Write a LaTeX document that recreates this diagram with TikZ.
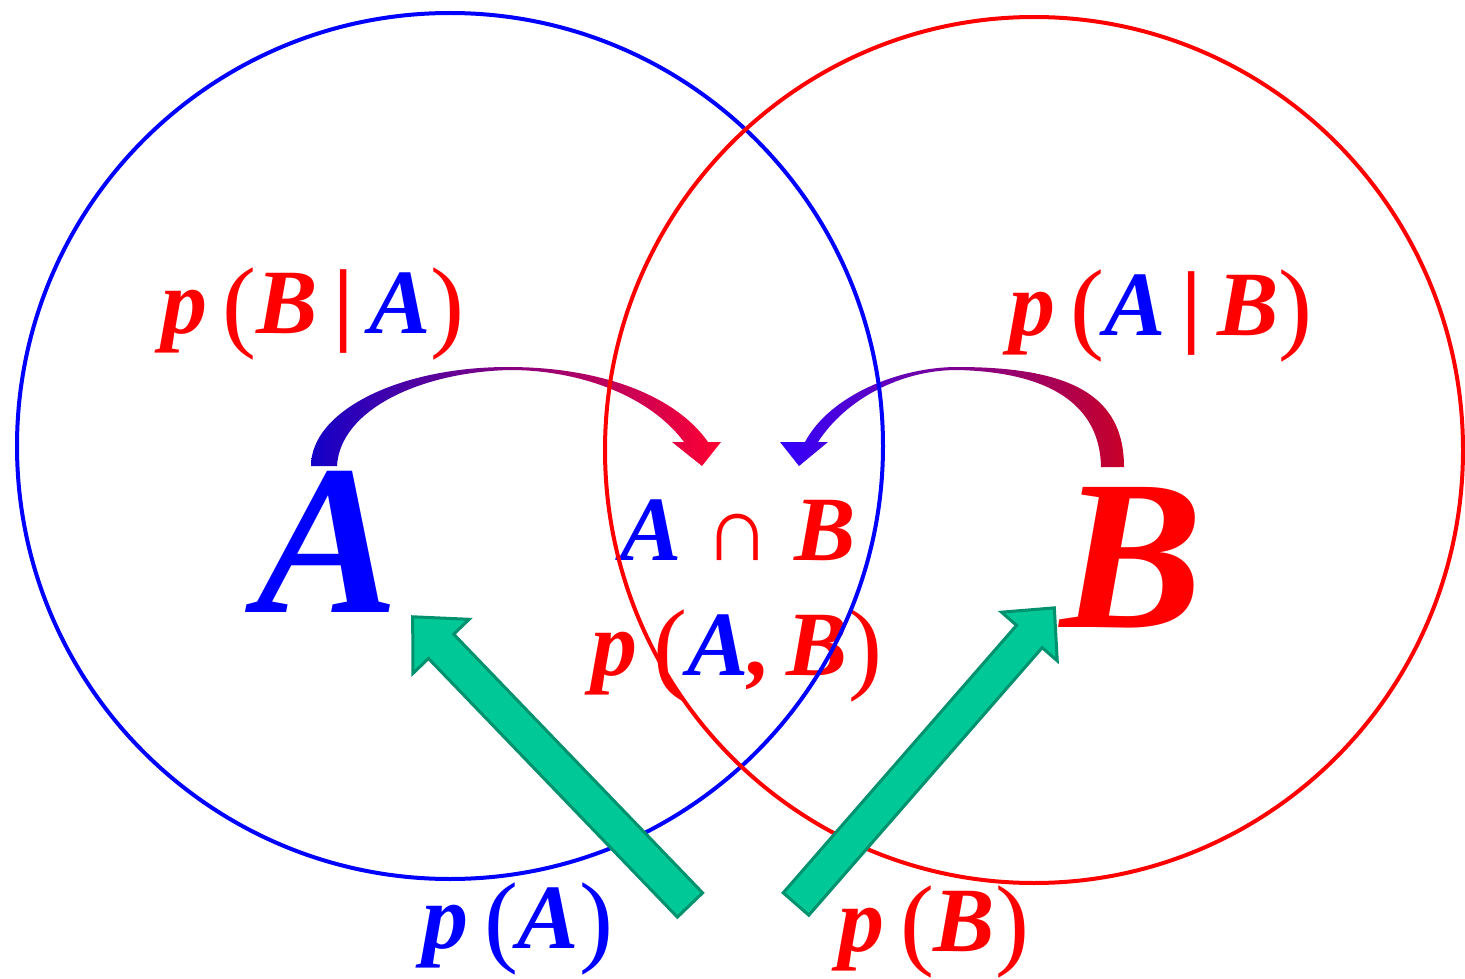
\documentclass[tikz,border=0pt]{standalone}
\usepackage{fontspec}
\setmainfont{Liberation Serif}
\usetikzlibrary{arrows.meta, positioning, calc}

\definecolor{vblue}{RGB}{0,0,255}
\definecolor{vred}{RGB}{255,0,0}
\definecolor{grfill}{RGB}{0,200,150}
\definecolor{grline}{RGB}{0,145,110}

\newcommand{\opn}{\raisebox{-5pt}{\fontsize{102}{102}\selectfont\upshape\mdseries(}}
\newcommand{\cls}{\raisebox{-5pt}{\fontsize{102}{102}\selectfont\upshape\mdseries)}}
\newcommand{\given}{{\upshape\,|\,}}
\newcommand{\evA}{\textcolor{vblue}{A}}
\newcommand{\evB}{\textcolor{vred}{B}}

\tikzset{
    setA/.style={draw=vblue, line width=4pt},
    setB/.style={draw=vred, line width=4pt},
    bigl/.style={font=\fontsize{214}{214}\selectfont\bfseries\itshape, inner sep=0pt, anchor=base},
    lbl/.style={font=\fontsize{92}{92}\selectfont\bfseries\itshape, inner sep=0pt, anchor=base},
    grarr/.style={fill=grfill, draw=grline, line width=3pt, line join=miter},
}

\begin{document}
\begin{tikzpicture}[x=1pt, y=-1pt]
    \useasboundingbox (0,0) rectangle (1465,979);

    % texts
    \node[bigl, text=vblue] (A) at (328,612) {A};
    \node[bigl, text=vred] (B) at (1132,627) {B};
    \node[lbl, text=vred] (pBA) at (313,333) {p\,\opn B\given\evA\cls};
    \node[lbl, text=vred] (pAB) at (1161,335) {p\,\opn\evA\given B\cls};
    \node[lbl, text=vred] (AcapB) at (738,560) {\evA\ {\upshape\mdseries ∩}\ B};
    \node[lbl, text=vred] (pjoint) at (737,675) {p\,\opn\evA,\,B\cls};
    \node[lbl, text=vblue] (pA) at (518,948) {p\,\opn A\cls};
    \node[lbl, text=vred] (pB) at (934,951) {p\,\opn B\cls};

    % curved arrows
    \shade[left color={rgb,255:red,20;green,0;blue,200}, right color={rgb,255:red,255;green,0;blue,50}]
        (311,466) .. controls (311,411) and (399,367) .. (508,367)
        .. controls (600,367) and (675,395) .. (708,442)
        -- (721,442) -- (702,466) -- (672,442) -- (684,442)
        .. controls (650,396) and (580,370) .. (510,370)
        .. controls (420,372) and (340,410) .. (337,466) -- cycle;
    \shade[left color={rgb,255:red,50;green,0;blue,255}, right color={rgb,255:red,200;green,0;blue,40}]
        (1124,467) .. controls (1124,395) and (1070,367) .. (957,367)
        .. controls (900,367) and (830,395) .. (805,442)
        -- (780,442) -- (799,466) -- (828,442) -- (818,442)
        .. controls (845,400) and (900,370) .. (957,370)
        .. controls (1050,372) and (1100,405) .. (1101,467) -- cycle;

    % the two sets
    \draw[setA] (450,446) circle[radius=433pt];
    \draw[setB] (1034,450) ellipse[x radius=429pt, y radius=433pt];

    % block arrows
    \coordinate (pAtail) at (690,905);
    \coordinate (pBtail) at (796,904);
    \begin{scope}[shift={(pAtail)}, rotate=133.9]
        \draw[grarr] (0,-17.5) -- (359,-17.5) -- (359,-39) -- (400,0) -- (359,39) -- (359,17.5) -- (0,17.5) -- cycle;
    \end{scope}
    \begin{scope}[shift={(pBtail)}, rotate=48.9]
        \draw[grarr] (0,-17) -- (355,-17) -- (355,-37) -- (393,0) -- (355,37) -- (355,17) -- (0,17) -- cycle;
    \end{scope}
\end{tikzpicture}
\end{document}
